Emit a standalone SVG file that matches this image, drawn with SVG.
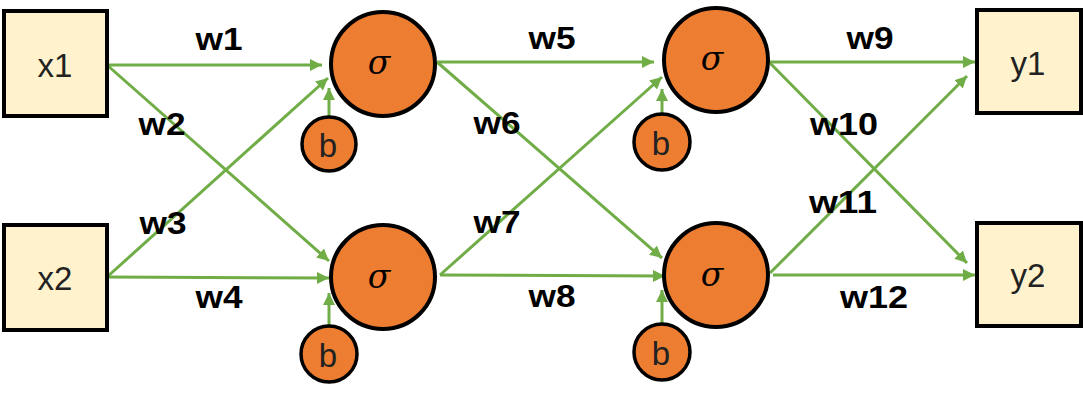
<svg xmlns="http://www.w3.org/2000/svg" width="1083" height="400" viewBox="0 0 1083 400">
<defs>
<marker id="arr" viewBox="0 0 10 10" refX="10" refY="5" markerWidth="4" markerHeight="4" orient="auto" markerUnits="strokeWidth">
<path d="M0,0 L10,5 L0,10 z" fill="#70AD47"/>
</marker>
<style>
.box{fill:#FFF2CC;stroke:#000;stroke-width:4}
.neu{fill:#ED7D31;stroke:#000;stroke-width:4}
.bias{fill:#ED7D31;stroke:#000;stroke-width:3.5}
.edge{stroke:#70AD47;stroke-width:3;fill:none;marker-end:url(#arr)}
.lbl{font-family:"Liberation Sans",Arial,sans-serif;font-size:32px;font-weight:bold;fill:#000;text-anchor:middle}
.io{font-family:"Liberation Sans",Arial,sans-serif;font-size:33px;fill:#222;text-anchor:middle}
.sig{font-family:"DejaVu Serif","Liberation Serif",serif;font-size:33px;font-style:italic;fill:#000;text-anchor:middle}
.b{font-family:"Liberation Sans",Arial,sans-serif;font-size:33px;fill:#222;text-anchor:middle}
</style>
</defs>
<rect width="1083" height="400" fill="#fff"/>
<g id="connectors">
<line class="edge" x1="107" y1="65" x2="322" y2="65"/>
<line class="edge" x1="107" y1="65" x2="329" y2="261"/>
<line class="edge" x1="107" y1="277" x2="328" y2="78"/>
<line class="edge" x1="107" y1="277" x2="329" y2="278"/>
<line class="edge" x1="329" y1="116" x2="329" y2="88"/>
<line class="edge" x1="329" y1="325" x2="329" y2="293"/>
<line class="edge" x1="437" y1="62" x2="654" y2="62"/>
<line class="edge" x1="437" y1="62" x2="662" y2="258"/>
<line class="edge" x1="440" y1="275" x2="662" y2="77"/>
<line class="edge" x1="440" y1="275" x2="665" y2="276"/>
<line class="edge" x1="662" y1="113" x2="662" y2="89"/>
<line class="edge" x1="662" y1="323" x2="662" y2="290"/>
<line class="edge" x1="769" y1="62" x2="975" y2="62"/>
<line class="edge" x1="769" y1="62" x2="967" y2="263"/>
<line class="edge" x1="770" y1="273" x2="967" y2="76"/>
<line class="edge" x1="773" y1="275" x2="975" y2="275"/>
<text class="lbl" x="219" y="50" textLength="47" lengthAdjust="spacingAndGlyphs">w1</text>
<text class="lbl" x="162" y="135" textLength="47" lengthAdjust="spacingAndGlyphs">w2</text>
<text class="lbl" x="163" y="234" textLength="47" lengthAdjust="spacingAndGlyphs">w3</text>
<text class="lbl" x="219" y="308" textLength="47" lengthAdjust="spacingAndGlyphs">w4</text>
<text class="lbl" x="552" y="49" textLength="47" lengthAdjust="spacingAndGlyphs">w5</text>
<text class="lbl" x="497" y="134" textLength="47" lengthAdjust="spacingAndGlyphs">w6</text>
<text class="lbl" x="497" y="233" textLength="47" lengthAdjust="spacingAndGlyphs">w7</text>
<text class="lbl" x="552" y="307" textLength="47" lengthAdjust="spacingAndGlyphs">w8</text>
<text class="lbl" x="870" y="49" textLength="47" lengthAdjust="spacingAndGlyphs">w9</text>
<text class="lbl" x="844" y="135" textLength="68" lengthAdjust="spacingAndGlyphs">w10</text>
<text class="lbl" x="843" y="213" textLength="68" lengthAdjust="spacingAndGlyphs">w11</text>
<text class="lbl" x="874" y="308" textLength="68" lengthAdjust="spacingAndGlyphs">w12</text>
</g>
<g id="x1"><rect class="box" x="4" y="11" width="103" height="105"/><text class="io" x="55" y="77">x1</text></g>
<g id="x2"><rect class="box" x="4" y="225" width="103" height="105"/><text class="io" x="55" y="290">x2</text></g>
<g id="h1"><circle class="neu" cx="383" cy="64" r="52"/><text class="sig" x="379" y="74">σ</text></g>
<g id="h2"><circle class="neu" cx="383" cy="277" r="52"/><text class="sig" x="379" y="288">σ</text></g>
<g id="b1"><circle class="bias" cx="329" cy="144" r="27"/><text class="b" x="328" y="157">b</text></g>
<g id="b2"><circle class="bias" cx="329" cy="354" r="28"/><text class="b" x="328" y="367">b</text></g>
<g id="h3"><circle class="neu" cx="716" cy="60" r="52"/><text class="sig" x="712" y="70">σ</text></g>
<g id="h4"><circle class="neu" cx="716" cy="275" r="52"/><text class="sig" x="712" y="286">σ</text></g>
<g id="b3"><circle class="bias" cx="662" cy="142" r="28"/><text class="b" x="661" y="155">b</text></g>
<g id="b4"><circle class="bias" cx="662" cy="352" r="28"/><text class="b" x="661" y="365">b</text></g>
<g id="y1"><rect class="box" x="977" y="10" width="104" height="103"/><text class="io" x="1028" y="75">y1</text></g>
<g id="y2"><rect class="box" x="977" y="223" width="104" height="103"/><text class="io" x="1028" y="287">y2</text></g>
</svg>
